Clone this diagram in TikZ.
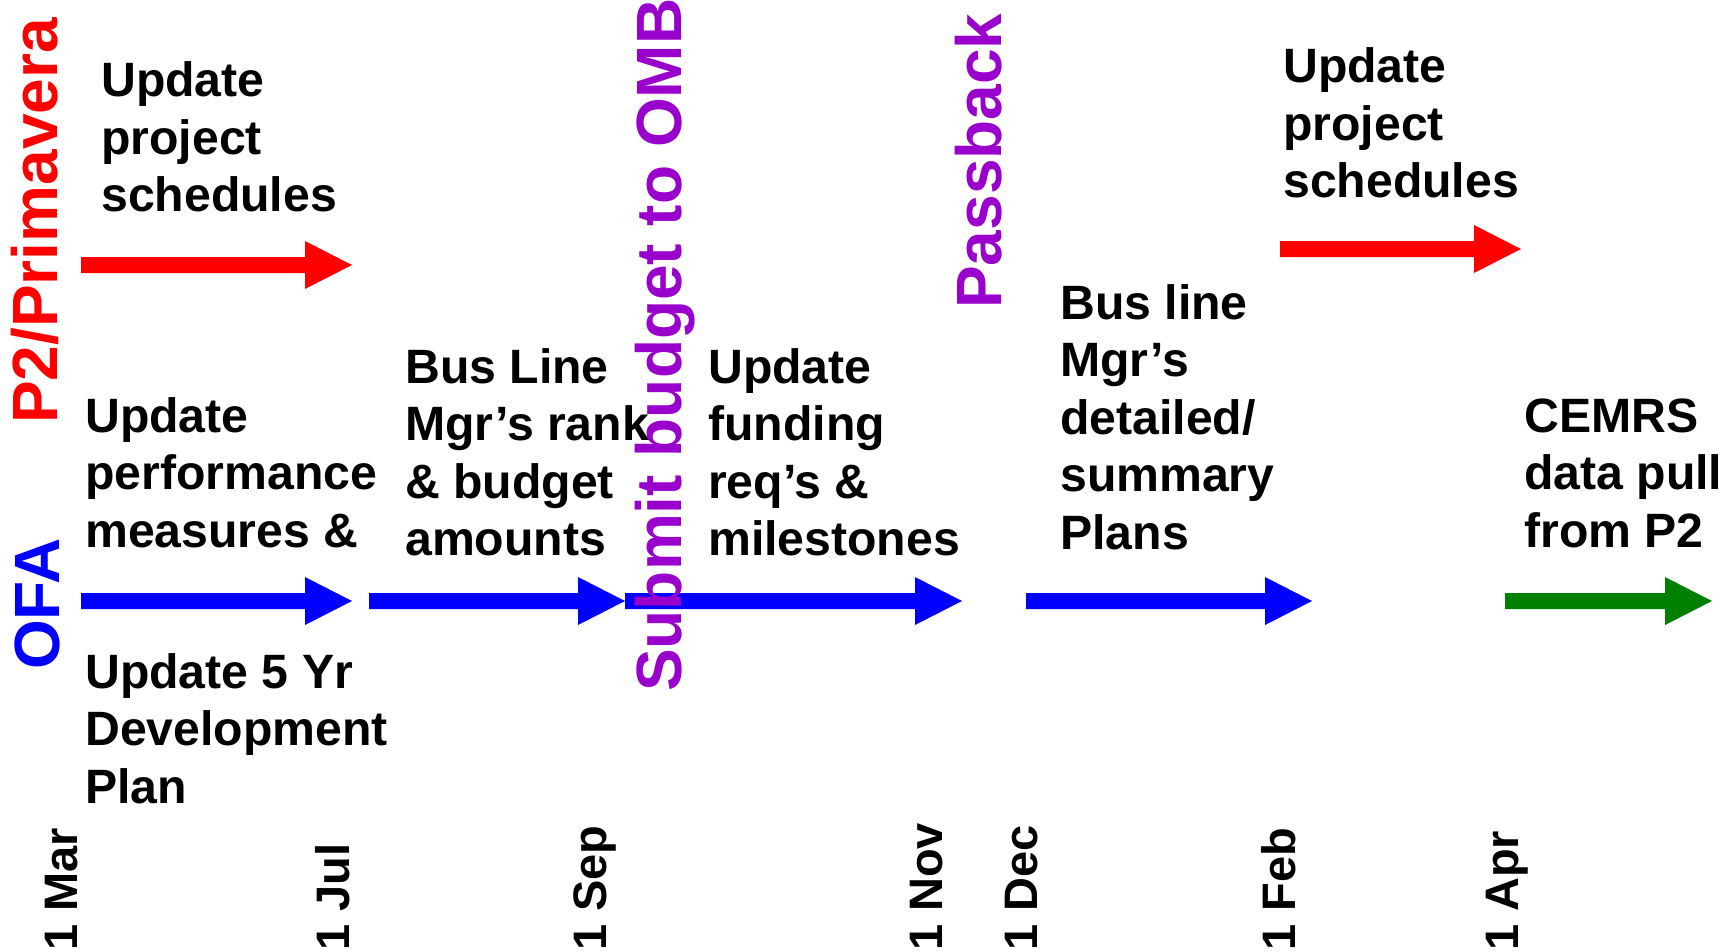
\documentclass[tikz,border=0pt]{standalone}
\usepackage{fontspec}
\setmainfont{Liberation Sans}
\usetikzlibrary{calc}
\definecolor{pur}{HTML}{9900CC}
\definecolor{grn}{HTML}{008000}
\newcommand\fatarrow[3]{%
  \fill[#1] ($(#2)+(0,8)$) -- ($(#3)+(-47,8)$) -- ($(#3)+(-47,24)$) -- (#3)
    -- ($(#3)+(-47,-24)$) -- ($(#3)+(-47,-8)$) -- ($(#2)+(0,-8)$) -- cycle;}
\newcommand\lines[1]{\begin{tabular}[t]{@{}l@{}}#1\end{tabular}}
\begin{document}
\begin{tikzpicture}[x=1pt,y=-1pt,
  lbl/.style={inner sep=0pt, anchor=base west, font=\fontsize{48.2}{57.5}\selectfont\bfseries},
  side/.style={inner sep=0pt, anchor=base west, rotate=90, font=\fontsize{64}{70}\selectfont\bfseries},
  date/.style={inner sep=0pt, anchor=base west, rotate=90, font=\fontsize{47}{55}\selectfont\bfseries}]
\useasboundingbox (0,0) rectangle (1729,952);
\clip (0,0) rectangle (1729,952);

% arrow end points
\coordinate (r1s) at (81,265);   \coordinate (r1e) at (352,265);
\coordinate (r2s) at (1280,249); \coordinate (r2e) at (1521,249);
\coordinate (b1s) at (81,601);   \coordinate (b1e) at (352,601);
\coordinate (b2s) at (369,601);  \coordinate (b2e) at (625,601);
\coordinate (b3s) at (625,601);  \coordinate (b3e) at (962,601);
\coordinate (b4s) at (1026,601); \coordinate (b4e) at (1312,601);
\coordinate (g1s) at (1505,601); \coordinate (g1e) at (1712,601);

\fatarrow{red}{r1s}{r1e}
\fatarrow{red}{r2s}{r2e}
\fatarrow{blue}{b1s}{b1e}
\fatarrow{blue}{b2s}{b2e}
\fatarrow{blue}{b3s}{b3e}
\fatarrow{blue}{b4s}{b4e}
\fatarrow{grn}{g1s}{g1e}

% row labels and milestones
\node[side, text=red] (p2) at (57,424) {P2/Primavera};
\node[side, text=blue] (ofa) at (59,670) {OFA};
\node[side, text=pur] (omb) at (681,692) {Submit budget to OMB};
\node[side, text=pur] (pb) at (1001,309) {Passback};

% task texts
\node[lbl] (t1) at (101,97) {\lines{Update\\project\\schedules}};
\node[lbl] (t2) at (1283,83) {\lines{Update\\project\\schedules}};
\node[lbl] (t3) at (85,432) {\lines{Update\\performance\\measures \&}};
\node[lbl] (t4) at (85,688) {\lines{Update 5 Yr\\Development\\Plan}};
\node[lbl] (t5) at (405,383) {\lines{Bus Line\\Mgr’s rank\\\& budget\\amounts}};
\node[lbl] (t6) at (708,383) {\lines{Update\\funding\\req’s \&\\milestones}};
\node[lbl] (t7) at (1060,319) {\lines{Bus line\\Mgr’s\\detailed/\\summary\\Plans}};
\node[lbl] (t8) at (1524,432) {\lines{CEMRS\\data pull\\from P2}};

% dates
\node[date] (d1) at (77,951) {1 Mar};
\node[date] (d2) at (349,951) {1 Jul};
\node[date] (d3) at (606,951) {1 Sep};
\node[date] (d4) at (942,951) {1 Nov};
\node[date] (d5) at (1037,951) {1 Dec};
\node[date] (d6) at (1295,951) {1 Feb};
\node[date] (d7) at (1518,951) {1 Apr};
\end{tikzpicture}
\end{document}
